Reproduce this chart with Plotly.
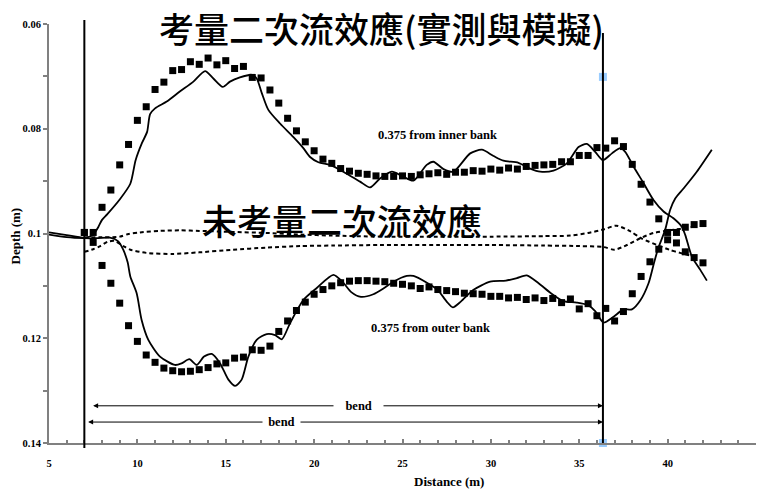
import plotly.graph_objects as go

# ---------------- data ----------------
MEAS_X = [7.0 + 0.5 * i for i in range(71)]  # measuring stations every 0.5 m

INNER_MEAS = [0.0998, 0.0998, 0.0950, 0.0917, 0.0869, 0.0830, 0.0784, 0.0758, 0.0725, 0.0711,
              0.0689, 0.0687, 0.0672, 0.0677, 0.0665, 0.0678, 0.0670, 0.0685, 0.0681, 0.0702,
              0.0703, 0.0726, 0.0751, 0.0780, 0.0804, 0.0825, 0.0842, 0.0858, 0.0866, 0.0876,
              0.0881, 0.0885, 0.0887, 0.0890, 0.0891, 0.0891, 0.0890, 0.0891, 0.0888, 0.0886,
              0.0884, 0.0887, 0.0883, 0.0883, 0.0880, 0.0881, 0.0877, 0.0879, 0.0875, 0.0877,
              0.0872, 0.0870, 0.0869, 0.0868, 0.0863, 0.0863, 0.0851, 0.0851, 0.0836, 0.0837,
              0.0823, 0.0834, 0.0868, 0.0906, 0.0940, 0.0972, 0.0998, 0.1018, 0.1035, 0.1046,
              0.1056]

OUTER_MEAS = [0.0998, 0.1017, 0.1061, 0.1095, 0.1133, 0.1176, 0.1206, 0.1232, 0.1246, 0.1257,
              0.1262, 0.1264, 0.1263, 0.1260, 0.1256, 0.1249, 0.1247, 0.1238, 0.1236, 0.1222,
              0.1223, 0.1215, 0.1187, 0.1167, 0.1147, 0.1131, 0.1116, 0.1107, 0.1100, 0.1094,
              0.1091, 0.1090, 0.1090, 0.1091, 0.1092, 0.1095, 0.1097, 0.1100, 0.1105, 0.1102,
              0.1107, 0.1109, 0.1111, 0.1114, 0.1115, 0.1116, 0.1120, 0.1120, 0.1123, 0.1122,
              0.1126, 0.1123, 0.1128, 0.1124, 0.1132, 0.1125, 0.1144, 0.1134, 0.1157, 0.1143,
              0.1167, 0.1149, 0.1115, 0.1082, 0.1054, 0.1030, 0.1012, 0.0998, 0.0988, 0.0983,
              0.0981]

INNER_SIM_X = [5.0, 6.0, 7.0, 7.5, 7.6, 7.8, 8.0, 8.3, 9.0, 9.6,
               9.9, 10.25, 10.55, 10.72, 11.0, 11.66, 12.4, 13.17, 13.83, 14.3,
               14.83, 15.24, 15.8, 16.47, 16.75, 17.04, 17.41, 18.07, 18.83, 19.39,
               19.77, 20.24, 20.9, 21.65, 22.6, 23.17, 23.73, 24.4, 24.96, 25.62,
               26.37, 26.75, 27.32, 27.88, 28.83, 29.49, 30.15, 30.71, 31.56, 32.22,
               32.79, 33.54, 34.3, 34.96, 35.43, 35.9, 36.34, 36.85, 37.32, 37.6,
               38.07, 38.64, 39.2, 39.77, 40.33, 40.8, 41.0, 41.37, 41.84, 42.22]
INNER_SIM = [0.0998, 0.1003, 0.1008, 0.1003, 0.0998, 0.0987, 0.0974, 0.0963, 0.0935, 0.0905,
             0.0860, 0.0828, 0.0806, 0.0772, 0.0761, 0.0748, 0.0729, 0.0710, 0.0690, 0.0704,
             0.0720, 0.0710, 0.0702, 0.0697, 0.0704, 0.0732, 0.0764, 0.0790, 0.0816, 0.0837,
             0.0854, 0.0864, 0.0869, 0.0882, 0.0901, 0.0912, 0.0895, 0.0882, 0.0890, 0.0899,
             0.0869, 0.0863, 0.0877, 0.0882, 0.0847, 0.0840, 0.0852, 0.0861, 0.0865, 0.0876,
             0.0882, 0.0880, 0.0866, 0.0835, 0.0829, 0.0844, 0.0860, 0.0847, 0.0837, 0.0844,
             0.0872, 0.0904, 0.0936, 0.0958, 0.0971, 0.0987, 0.1003, 0.1044, 0.1069, 0.1090]

OUTER_SIM_X = [5.0, 6.0, 7.0, 7.7, 8.45, 8.92, 9.2, 9.45, 9.6, 9.96,
               10.24, 10.62, 11.28, 12.13, 12.5, 12.94, 13.36, 13.77, 14.21, 14.68,
               15.15, 15.53, 15.9, 16.28, 16.75, 17.32, 17.79, 18.17, 18.64, 19.39,
               20.15, 21.09, 21.6, 22.1, 22.65, 23.35, 23.92, 24.49, 25.24, 25.62,
               26.38, 27.0, 27.5, 27.85, 28.3, 29.0, 29.96, 30.85, 31.47, 32.03,
               32.7, 33.4, 34.1, 34.86, 35.5, 35.9, 36.37, 36.94, 37.5, 37.98,
               38.45, 38.92, 39.2, 39.45, 39.86, 40.14, 40.43, 40.9, 41.65, 42.5]
OUTER_SIM = [0.1002, 0.1007, 0.1009, 0.1009, 0.1008, 0.1015, 0.1031, 0.1055, 0.1082, 0.1114,
             0.1165, 0.1203, 0.1235, 0.1251, 0.1248, 0.1240, 0.1251, 0.1235, 0.1230, 0.1248,
             0.1279, 0.1291, 0.1279, 0.1235, 0.1203, 0.1192, 0.1194, 0.1202, 0.1171, 0.1127,
             0.1104, 0.1079, 0.1092, 0.1112, 0.1121, 0.1116, 0.1105, 0.1092, 0.1081, 0.1081,
             0.1094, 0.1108, 0.1130, 0.1141, 0.1130, 0.1108, 0.1092, 0.1090, 0.1085, 0.1080,
             0.1095, 0.1114, 0.1129, 0.1132, 0.1137, 0.1148, 0.1170, 0.1159, 0.1145, 0.1145,
             0.1128, 0.1095, 0.1060, 0.1030, 0.0993, 0.0955, 0.0933, 0.0914, 0.0882, 0.0840]

NOSEC_A_X = [7.0, 8.0, 8.6, 9.0, 9.5, 10.15, 11.3, 12.4, 13.5, 15.4,
             17.3, 19.2, 21.0, 23.7, 27.0, 30.0, 33.0, 34.5, 35.5, 36.4,
             37.1, 37.9, 38.5, 39.4, 40.1, 40.7, 41.5]
NOSEC_A = [0.1008, 0.1007, 0.1007, 0.1006, 0.1001, 0.0998, 0.0995, 0.0994, 0.0995, 0.0997,
           0.0999, 0.1002, 0.1004, 0.1006, 0.1006, 0.1006, 0.1005, 0.1004, 0.0999, 0.0992,
           0.0985, 0.0996, 0.1009, 0.1022, 0.1031, 0.1037, 0.1044]

NOSEC_B_X = [7.0, 7.5, 7.9, 8.3, 8.7, 9.2, 9.6, 10.5, 12.0, 13.5,
             15.4, 17.3, 19.2, 21.1, 23.7, 27.0, 30.0, 33.0, 35.0, 36.4,
             37.0, 37.7, 38.45, 39.2, 40.1, 41.3, 41.65]
NOSEC_B = [0.1035, 0.1030, 0.1024, 0.1016, 0.1014, 0.1024, 0.1031, 0.1037, 0.1039, 0.1036,
           0.1031, 0.1027, 0.1024, 0.1023, 0.1022, 0.1022, 0.1022, 0.1023, 0.1024, 0.1026,
           0.1031, 0.1022, 0.1009, 0.0999, 0.0994, 0.0988, 0.0985]

BEND_START = 7.0
BEND_END = 36.34
MARK_X = [36.34, 36.34]
MARK_Y = [0.0701, 0.14]

ARROW_UP = dict(x0=7.41, x1=36.34, y=0.1329, label_x=22.5, pad=3)
ARROW_LO = dict(x0=7.13, x1=36.34, y=0.1360, label_x=18.17, pad=1)

X_TICKS = [5, 10, 15, 20, 25, 30, 35, 40, 45]
Y_TICKS = [0.06, 0.08, 0.10, 0.12, 0.14]
Y_TICK_TEXT = ["0.06", "0.08", "0.1", "0.12", "0.14"]

# ---------------- figure ----------------
SERIF = "Liberation Serif, Times New Roman, serif"
CJK = "Noto Sans CJK TC, Noto Sans CJK SC, sans-serif"
GRAY = "#808080"

fig = go.Figure()

line_style = dict(color="black", width=1.8, shape="spline", smoothing=0.7)
dash_style = dict(color="black", width=2, dash="4px,3px", shape="spline", smoothing=0.7)

fig.add_trace(go.Scatter(x=INNER_SIM_X, y=INNER_SIM, mode="lines", line=line_style))
fig.add_trace(go.Scatter(x=OUTER_SIM_X, y=OUTER_SIM, mode="lines", line=line_style))
fig.add_trace(go.Scatter(x=NOSEC_A_X, y=NOSEC_A, mode="lines", line=dash_style))
fig.add_trace(go.Scatter(x=NOSEC_B_X, y=NOSEC_B, mode="lines", line=dash_style))
fig.add_trace(go.Scatter(x=MEAS_X, y=INNER_MEAS, mode="markers",
                         marker=dict(symbol="square", size=7, color="black")))
fig.add_trace(go.Scatter(x=MEAS_X, y=OUTER_MEAS, mode="markers",
                         marker=dict(symbol="square", size=7, color="black")))
fig.add_trace(go.Scatter(x=MARK_X, y=MARK_Y, mode="markers", cliponaxis=False,
                         marker=dict(symbol="square", size=8, color="#99CCFF")))

# bend boundary lines
fig.add_shape(type="line", xref="x", yref="paper", x0=BEND_START, x1=BEND_START,
              y0=-0.012, y1=1.0095, line=dict(color="black", width=2))
fig.add_shape(type="line", xref="x", yref="paper", x0=BEND_END, x1=BEND_END,
              y0=0.0, y1=0.9785, line=dict(color="black", width=2))

annots = []
for arr in (ARROW_UP, ARROW_LO):
    annots.append(dict(x=arr["x1"], y=arr["y"], ax=arr["x0"], ay=arr["y"],
                       xref="x", yref="y", axref="x", ayref="y", text="",
                       showarrow=True, arrowhead=2, arrowside="end+start",
                       arrowsize=1, arrowwidth=1, arrowcolor="black",
                       standoff=0, startstandoff=0))
    sp = "\u00a0" * arr["pad"]
    annots.append(dict(x=arr["label_x"], y=arr["y"], xref="x", yref="y", text=sp + "bend" + sp,
                       showarrow=False, bgcolor="white", borderpad=2,
                       font=dict(family=SERIF, size=12.5, color="black", weight="bold")))

annots += [
    dict(x=26.99, y=0.0812, xref="x", yref="y", text="0.375 from inner bank", showarrow=False,
         font=dict(family=SERIF, size=12.5, color="black", weight="bold")),
    dict(x=26.6, y=0.1181, xref="x", yref="y", text="0.375 from outer bank", showarrow=False,
         font=dict(family=SERIF, size=12.5, color="black", weight="bold")),
    dict(x=0.470, y=0.9916, xref="paper", yref="paper", text="考量二次流效應(實測與模擬)",
         showarrow=False, xanchor="center", yanchor="middle",
         font=dict(family=CJK, size=35, color="black", weight=500)),
    dict(x=0.415, y=0.5346, xref="paper", yref="paper", text="未考量二次流效應",
         showarrow=False, xanchor="center", yanchor="middle",
         font=dict(family=CJK, size=35, color="black", weight=500)),
    dict(x=0.566, y=-0.093, xref="paper", yref="paper", text="Distance (m)",
         showarrow=False, xanchor="center", yanchor="middle",
         font=dict(family=SERIF, size=13, color="black", weight="bold")),
    dict(x=-0.048, y=0.493, xref="paper", yref="paper", text="Depth (m)", textangle=-90,
         showarrow=False, xanchor="center", yanchor="middle",
         font=dict(family=SERIF, size=13, color="black", weight="bold")),
]

fig.update_layout(
    template="none",
    width=761, height=491,
    margin=dict(l=49, r=5, t=24, b=48, autoexpand=False),
    paper_bgcolor="white", plot_bgcolor="white",
    showlegend=False,
    annotations=annots,
    xaxis=dict(range=[5, 45], tickvals=X_TICKS, showgrid=False, zeroline=False,
               showline=True, linecolor=GRAY, linewidth=2,
               ticks="inside", ticklen=4, tickwidth=1.5, tickcolor=GRAY,
               minor=dict(dtick=1, ticks="inside", ticklen=3, tickcolor=GRAY, showgrid=False),
               tickfont=dict(family=SERIF, size=10.5, color="black", weight="bold"),
               ticklabelstandoff=9, automargin=False),
    yaxis=dict(range=[0.14, 0.06], tickvals=Y_TICKS, ticktext=Y_TICK_TEXT,
               showgrid=False, zeroline=False,
               showline=True, linecolor=GRAY, linewidth=2,
               ticks="outside", ticklen=4, tickwidth=1.5, tickcolor=GRAY,
               minor=dict(dtick=0.01, ticks="outside", ticklen=4, tickcolor=GRAY, showgrid=False),
               tickfont=dict(family=SERIF, size=10.5, color="black", weight="bold"),
               automargin=False),
)

fig.write_html("out.html", config={"displayModeBar": False},
               post_script="document.body.style.margin='0';")
